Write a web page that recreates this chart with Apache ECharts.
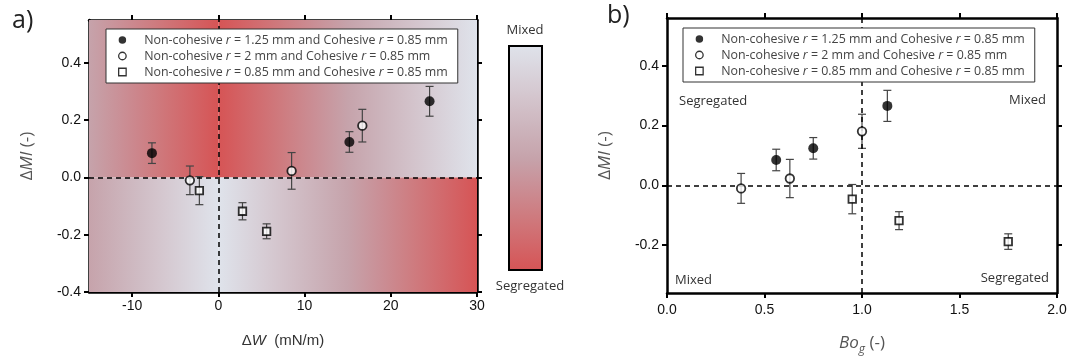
<!DOCTYPE html>
<html><head><meta charset="utf-8">
<script src="https://cdn.jsdelivr.net/npm/echarts@6/dist/echarts.min.js"></script>
<style>html,body{margin:0;padding:0;background:#fff}#c{width:1083px;height:361px}</style>
</head><body><div id="c"></div>
<script>
// ---- data ----
const seriesNames = [
  'Non-cohesive r = 1.25 mm and Cohesive r = 0.85 mm',
  'Non-cohesive r = 2 mm and Cohesive r = 0.85 mm',
  'Non-cohesive r = 0.85 mm and Cohesive r = 0.85 mm'
];
const dW_filled = [-7.7, 15.2, 24.5];
const dW_open = [-3.3, 8.5, 16.7];
const dW_square = [-2.2, 2.8, 5.6];
const Bog_filled = [0.56, 0.75, 1.13];
const Bog_open = [0.38, 0.63, 1.00];
const Bog_square = [0.95, 1.19, 1.75];
const dMI_filled = [0.085, 0.124, 0.266];
const dMI_open = [-0.010, 0.023, 0.181];
const dMI_square = [-0.046, -0.118, -0.188];
const err_filled = [0.036, 0.036, 0.052];
const err_open = [0.050, 0.064, 0.057];
const err_square = [0.049, 0.030, 0.026];
const xTicksA = [-10, 0, 10, 20, 30];
const yTicksA = [-0.4, -0.2, 0.0, 0.2, 0.4];
const xTicksB = [0.0, 0.5, 1.0, 1.5, 2.0];
const yTicksB = [-0.2, 0.0, 0.2, 0.4];
const rangeA = {xmin: -15, xmax: 30, ymin: -0.4, ymax: 0.55};
const rangeB = {xmin: 0, xmax: 2, ymin: -0.36, ymax: 0.56};

// ---- styling helpers ----
const CM = [[0, [223, 227, 235]], [0.5, [198, 163, 171]], [1, [214, 84, 85]]];
function cmap(s) {
  for (let i = 0; i < CM.length - 1; i++) {
    const [a, ca] = CM[i], [b, cb] = CM[i + 1];
    if (s <= b) {
      const t = (s - a) / (b - a);
      const c = ca.map((v, k) => Math.round(v + (cb[k] - v) * t));
      return 'rgb(' + c.join(',') + ')';
    }
  }
  return 'rgb(' + CM[CM.length - 1][1].join(',') + ')';
}
function grad(s0, s1, vertical) {
  const stops = [];
  for (let i = 0; i <= 8; i++) stops.push({offset: i / 8, color: cmap(s0 + (s1 - s0) * i / 8)});
  return vertical ? new echarts.graphic.LinearGradient(0, 0, 0, 1, stops)
                  : new echarts.graphic.LinearGradient(0, 0, 1, 0, stops);
}
const fmt1 = v => (Math.abs(v) < 1e-9 ? 0 : v).toFixed(1);
const tickFont = {fontFamily: 'Liberation Sans', fontSize: 14, color: '#111'};
const frame = {show: true, onZero: false, lineStyle: {color: '#000', width: 2.5}};
const yNameStyle = {fontFamily: 'Open Sans', fontSize: 17, color: '#555',
  rich: {i: {fontFamily: 'Open Sans', fontSize: 17, color: '#555', fontStyle: 'italic'}}};

function axesFor(gi, r, xt, yt, xName, yName, xGap, xMargin) {
  const xs = [
    {gridIndex: gi, type: 'value', position: 'bottom', min: r.xmin, max: r.xmax,
     axisLine: frame, splitLine: {show: false},
     axisTick: {show: true, length: 5, lineStyle: {color: '#000', width: 2}, customValues: xt},
     axisLabel: Object.assign({show: true, margin: xMargin, customValues: xt, formatter: gi === 1 ? fmt1 : (v => String(v))}, tickFont),
     name: xName.text, nameLocation: 'middle', nameGap: xGap, nameTextStyle: xName.style},
    {gridIndex: gi, type: 'value', position: 'top', min: r.xmin, max: r.xmax,
     axisLine: frame, splitLine: {show: false},
     axisTick: {show: true, length: 5, lineStyle: {color: '#000', width: 2}, customValues: xt},
     axisLabel: {show: false}}
  ];
  const ys = [
    {gridIndex: gi, type: 'value', position: 'left', min: r.ymin, max: r.ymax,
     axisLine: frame, splitLine: {show: false},
     axisTick: {show: true, length: 5, lineStyle: {color: '#000', width: 2}, customValues: yt},
     axisLabel: Object.assign({show: true, margin: 8, customValues: yt, formatter: fmt1}, tickFont),
     name: yName, nameLocation: 'middle', nameRotate: 90, nameGap: 53, nameTextStyle: yNameStyle},
    {gridIndex: gi, type: 'value', position: 'right', min: r.ymin, max: r.ymax,
     axisLine: frame, splitLine: {show: false},
     axisTick: {show: true, length: 5, lineStyle: {color: '#000', width: 2}, customValues: yt},
     axisLabel: {show: false}}
  ];
  return {xs, ys};
}

const A = axesFor(0, rangeA, xTicksA, yTicksA,
  {text: 'Δ{i|W}  (mN/m)', style: {fontFamily: 'Liberation Sans', fontSize: 15, color: '#333',
    rich: {i: {fontFamily: 'Liberation Sans', fontSize: 15, color: '#333', fontStyle: 'italic'}}}},
  'Δ{i|MI} (-)', 41, 7);
const B = axesFor(1, rangeB, xTicksB, yTicksB,
  {text: '{i|Bo}{s|g} (-)', style: {fontFamily: 'Open Sans', fontSize: 17, color: '#555',
    rich: {i: {fontFamily: 'Open Sans', fontSize: 17, color: '#555', fontStyle: 'italic'},
           s: {fontFamily: 'Open Sans', fontSize: 12, color: '#555', fontStyle: 'italic', padding: [13, 0, 0, 0]}}}},
  'Δ{i|MI} (-)', 38, 10);

function errRender(params, api) {
  const x = api.value(0), lo = api.value(1), hi = api.value(2);
  const p1 = api.coord([x, hi]), p2 = api.coord([x, lo]);
  const w = 4, st = {stroke: '#444', lineWidth: 1.2};
  return {type: 'group', children: [
    {type: 'line', shape: {x1: p1[0], y1: p1[1], x2: p2[0], y2: p2[1]}, style: st},
    {type: 'line', shape: {x1: p1[0] - w, y1: p1[1], x2: p1[0] + w, y2: p1[1]}, style: st},
    {type: 'line', shape: {x1: p2[0] - w, y1: p2[1], x2: p2[0] + w, y2: p2[1]}, style: st}
  ]};
}
const markerStyles = [
  {symbol: 'circle', symbolSize: 10, itemStyle: {color: '#000'}},
  {symbol: 'circle', symbolSize: 8.5, itemStyle: {color: '#fff', borderColor: '#000', borderWidth: 1.8}},
  {symbol: 'rect', symbolSize: 7.5, itemStyle: {color: '#fff', borderColor: '#000', borderWidth: 1.8}}
];
function panelSeries(ai, xsets, ysets, esets) {
  const out = [];
  for (let k = 0; k < 3; k++) {
    out.push({type: 'custom', xAxisIndex: ai, yAxisIndex: ai, z: 3, silent: true,
      renderItem: errRender, encode: {x: 0, y: [1, 2]},
      data: xsets[k].map((x, i) => [x, ysets[k][i] - esets[k][i], ysets[k][i] + esets[k][i]])});
  }
  for (let k = 0; k < 3; k++) {
    out.push(Object.assign({type: 'scatter', name: seriesNames[k], xAxisIndex: ai, yAxisIndex: ai, z: 5,
      silent: true, data: xsets[k].map((x, i) => [x, ysets[k][i]])}, markerStyles[k]));
  }
  return out;
}
const dashLine = {silent: true, symbol: 'none', label: {show: false},
  lineStyle: {color: '#000', type: [5, 4], width: 1.5}, data: []};

const series = [
  {type: 'scatter', name: 'bgA', xAxisIndex: 0, yAxisIndex: 0, z: 0, data: [], silent: true,
   markArea: {silent: true, data: [
     [{xAxis: rangeA.xmin, yAxis: 0, itemStyle: {color: grad(0.5, 1)}}, {xAxis: 0, yAxis: rangeA.ymax}],
     [{xAxis: 0, yAxis: 0, itemStyle: {color: grad(1, 0)}}, {xAxis: rangeA.xmax, yAxis: rangeA.ymax}],
     [{xAxis: rangeA.xmin, yAxis: rangeA.ymin, itemStyle: {color: grad(0.5, 0)}}, {xAxis: 0, yAxis: 0}],
     [{xAxis: 0, yAxis: rangeA.ymin, itemStyle: {color: grad(0, 1)}}, {xAxis: rangeA.xmax, yAxis: 0}]
   ]}},
  {type: 'scatter', name: 'lnA', xAxisIndex: 0, yAxisIndex: 0, z: 2, data: [], silent: true,
   markLine: Object.assign({}, dashLine, {data: [{yAxis: 0}, {xAxis: 0}]})},
  {type: 'scatter', name: 'lnB', xAxisIndex: 2, yAxisIndex: 2, z: 2, data: [], silent: true,
   markLine: Object.assign({}, dashLine, {data: [{yAxis: 0}, {xAxis: 1}]})}
].concat(panelSeries(0, [dW_filled, dW_open, dW_square], [dMI_filled, dMI_open, dMI_square], [err_filled, err_open, err_square]))
 .concat(panelSeries(2, [Bog_filled, Bog_open, Bog_square], [dMI_filled, dMI_open, dMI_square], [err_filled, err_open, err_square]));

function legendFor(left, top) {
  return {show: true, orient: 'vertical', left: left, top: top, data: seriesNames,
    selectedMode: false, backgroundColor: '#fff', borderColor: '#333', borderWidth: 1,
    padding: [4, 10, 4, 12], itemWidth: 7.5, itemHeight: 7.5, itemGap: 2,
    itemStyle: {borderWidth: 1.3},
    formatter: n => '{g|}' + n.replace(/ r = /g, ' {i|r} = '),
    textStyle: {fontFamily: 'Open Sans', fontSize: 12.4, color: '#444', lineHeight: 14,
      rich: {g: {width: 13}, i: {fontFamily: 'Open Sans', fontSize: 12.4, color: '#444', fontStyle: 'italic', lineHeight: 14}}},
    z: 10};
}
const lblFont = '13px "Open Sans"';
const option = {
  animation: false,
  grid: [
    {left: 89, top: 20, width: 388, height: 272},
    {left: 667, top: 18, width: 390, height: 279}
  ],
  xAxis: A.xs.concat(B.xs),
  yAxis: A.ys.concat(B.ys),
  legend: [legendFor(106, 29), legendFor(683, 28)],
  series: series,
  graphic: [
    {type: 'text', left: 12, top: 8, style: {text: 'a)', font: '25px "Open Sans"', fill: '#222'}},
    {type: 'text', left: 607, top: 3, style: {text: 'b)', font: '25px "Open Sans"', fill: '#222'}},
    {type: 'rect', left: 508, top: 45, shape: {width: 33, height: 224},
     style: {fill: grad(0, 1, true), stroke: '#000', lineWidth: 2}},
    {type: 'text', x: 525, y: 30, style: {text: 'Mixed', font: lblFont, fill: '#333', align: 'center', verticalAlign: 'middle'}},
    {type: 'text', x: 530, y: 286, style: {text: 'Segregated', font: lblFont, fill: '#333', align: 'center', verticalAlign: 'middle'}},
    {type: 'text', x: 679, y: 101, style: {text: 'Segregated', font: lblFont, fill: '#333', align: 'left', verticalAlign: 'middle'}},
    {type: 'text', x: 1046, y: 100, style: {text: 'Mixed', font: lblFont, fill: '#333', align: 'right', verticalAlign: 'middle'}},
    {type: 'text', x: 675, y: 280, style: {text: 'Mixed', font: lblFont, fill: '#333', align: 'left', verticalAlign: 'middle'}},
    {type: 'text', x: 1049, y: 278, style: {text: 'Segregated', font: lblFont, fill: '#333', align: 'right', verticalAlign: 'middle'}}
  ]
};
const chart = echarts.init(document.getElementById('c'), null, {renderer: 'canvas'});
chart.setOption(option);
</script>
</body></html>
